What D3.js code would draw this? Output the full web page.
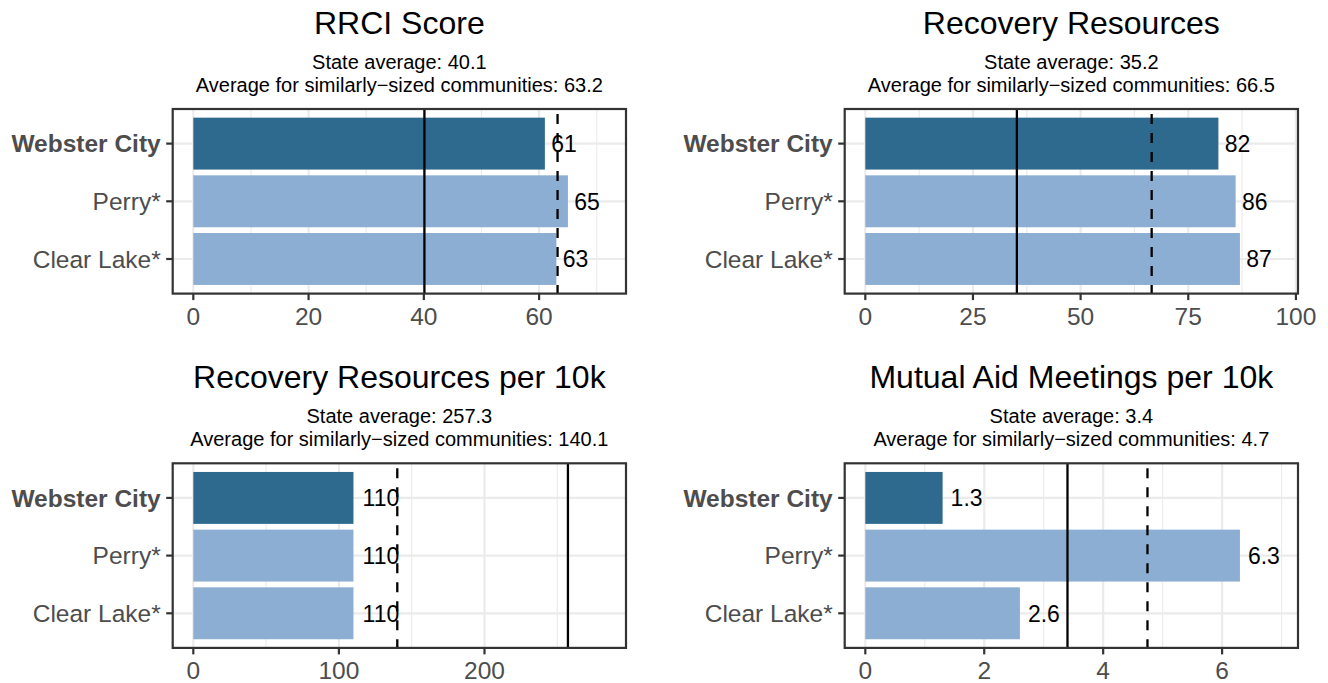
<!DOCTYPE html>
<html lang="en">
<head>
  <meta charset="UTF-8">
  <title>Community comparison</title>
  <script src="https://d3js.org/d3.v7.min.js"></script>
  <style type="text/css">
    body { margin: 0; background: white; }
    svg text { font-family: "Liberation Sans", Arial, Helvetica, sans-serif; }
    .tick-y { font-size: 24.5px; fill: #4d4d4d; }
    .tick-x { font-size: 24.5px; fill: #4d4d4d; }
    .title { font-size: 32px; fill: black; }
    .subtitle { font-size: 20px; fill: black; }
    .value { font-size: 23px; fill: black; }
  </style>
</head>
<body>
  <svg width="1328" height="683"></svg>
  <script type="text/javascript">
    // Data
    const cities = ["Webster City", "Perry*", "Clear Lake*"];
    const panelTitles = ["RRCI Score", "Recovery Resources", "Recovery Resources per 10k", "Mutual Aid Meetings per 10k"];
    const rrciScore = [61, 65, 63];
    const recoveryResources = [82, 86, 87];
    const resourcesPer10k = [110, 110, 110];
    const meetingsPer10k = [1.3, 6.3, 2.6];
    const stateAverages = [40.1, 35.2, 257.3, 3.4];
    const similarAverages = [63.2, 66.5, 140.1, 4.745];
    const tickValues = [[0, 20, 40, 60], [0, 25, 50, 75, 100], [0, 100, 200], [0, 2, 4, 6]];
    const minorTicks = [[10, 30, 50, 70], [12.5, 37.5, 62.5, 87.5], [50, 150, 250], [1, 3, 5, 7]];

    const seriesValues = [rrciScore, recoveryResources, resourcesPer10k, meetingsPer10k];

    let svg = d3.select("svg");

    // panel boxes (left, top)
    const boxW = 453.3, boxH = 184.6;
    const origins = [[172.7, 109], [844.7, 109], [172.7, 463.3], [844.7, 463.3]];

    const darkBlue = "#2e6a8e", lightBlue = "#8caed2";
    const fmt1 = v => v.toFixed(1);

    panelTitles.forEach(function (title, i) {
      let vals = seriesValues[i];
      let left = origins[i][0], top = origins[i][1];
      let g = svg.append("g").attr("transform", "translate(" + left + "," + top + ")");

      let m = 1.1 * d3.max(vals.concat([stateAverages[i], similarAverages[i]]));
      let x = d3.scaleLinear().domain([-0.05 * m, 1.05 * m]).range([0, boxW]);
      let y = d3.scaleBand().domain(cities).range([0, boxH]).paddingInner(0.1).paddingOuter(0.15);

      // grid
      g.append("g").selectAll("line.minor")
        .data(minorTicks[i].filter(v => x(v) < boxW))
        .enter().append("line")
        .attr("x1", d => x(d)).attr("x2", d => x(d))
        .attr("y1", 0).attr("y2", boxH)
        .attr("stroke", "#ebebeb").attr("stroke-width", 1.1);
      g.append("g").selectAll("line.major")
        .data(tickValues[i])
        .enter().append("line")
        .attr("x1", d => x(d)).attr("x2", d => x(d))
        .attr("y1", 0).attr("y2", boxH)
        .attr("stroke", "#ebebeb").attr("stroke-width", 2.2);
      g.append("g").selectAll("line")
        .data(cities)
        .enter().append("line")
        .attr("x1", 0).attr("x2", boxW)
        .attr("y1", d => y(d) + y.bandwidth() / 2).attr("y2", d => y(d) + y.bandwidth() / 2)
        .attr("stroke", "#ebebeb").attr("stroke-width", 2.2);

      // bars
      g.append("g").selectAll("rect")
        .data(vals)
        .enter().append("rect")
        .attr("x", x(0))
        .attr("y", (d, k) => y(cities[k]))
        .attr("width", d => x(d) - x(0))
        .attr("height", y.bandwidth())
        .attr("fill", (d, k) => k == 0 ? darkBlue : lightBlue);

      // value labels
      g.append("g").selectAll("text")
        .data(vals)
        .enter().append("text")
        .attr("class", "value")
        .attr("x", d => x(d))
        .attr("y", (d, k) => y(cities[k]) + y.bandwidth() / 2)
        .attr("dy", "0.36em")
        .text(d => String(d))
        .attr("dx", function () { return 0.25 * this.getComputedTextLength(); });

      // average lines
      g.append("line")
        .attr("x1", x(stateAverages[i])).attr("x2", x(stateAverages[i]))
        .attr("y1", 0).attr("y2", boxH)
        .attr("stroke", "black").attr("stroke-width", 2.3);
      g.append("line")
        .attr("x1", x(similarAverages[i])).attr("x2", x(similarAverages[i]))
        .attr("y1", 0).attr("y2", boxH)
        .attr("stroke", "black").attr("stroke-width", 2.3)
        .attr("stroke-dasharray", "10 9")
        .attr("stroke-dashoffset", -5);

      // panel border
      g.append("rect")
        .attr("width", boxW).attr("height", boxH)
        .attr("fill", "none").attr("stroke", "#333333").attr("stroke-width", 2.2);

      // x axis
      let xa = g.append("g").attr("transform", "translate(0," + boxH + ")");
      xa.selectAll("line")
        .data(tickValues[i])
        .enter().append("line")
        .attr("x1", d => x(d)).attr("x2", d => x(d))
        .attr("y1", 0).attr("y2", 6.5)
        .attr("stroke", "#333333").attr("stroke-width", 2.2);
      xa.selectAll("text")
        .data(tickValues[i])
        .enter().append("text")
        .attr("class", "tick-x")
        .attr("x", d => x(d))
        .attr("y", 31)
        .attr("text-anchor", "middle")
        .text(d => d);

      // y axis
      let ya = g.append("g");
      ya.selectAll("line")
        .data(cities)
        .enter().append("line")
        .attr("x1", -6.5).attr("x2", 0)
        .attr("y1", d => y(d) + y.bandwidth() / 2).attr("y2", d => y(d) + y.bandwidth() / 2)
        .attr("stroke", "#333333").attr("stroke-width", 2.2);
      ya.selectAll("text")
        .data(cities)
        .enter().append("text")
        .attr("class", "tick-y")
        .attr("x", -12)
        .attr("y", d => y(d) + y.bandwidth() / 2)
        .attr("dy", "0.36em")
        .attr("text-anchor", "end")
        .style("font-weight", (d, k) => k == 0 ? "bold" : "normal")
        .text(d => d);

      // titles
      g.append("text")
        .attr("class", "title")
        .attr("x", boxW / 2).attr("y", -75)
        .attr("text-anchor", "middle")
        .text(title);
      g.append("text")
        .attr("class", "subtitle")
        .attr("x", boxW / 2).attr("y", -40)
        .attr("text-anchor", "middle")
        .text("State average: " + fmt1(stateAverages[i]));
      g.append("text")
        .attr("class", "subtitle")
        .attr("x", boxW / 2).attr("y", -17)
        .attr("text-anchor", "middle")
        .text("Average for similarly\u2212sized communities: " + fmt1(similarAverages[i]));
    });
  </script>
</body>
</html>
